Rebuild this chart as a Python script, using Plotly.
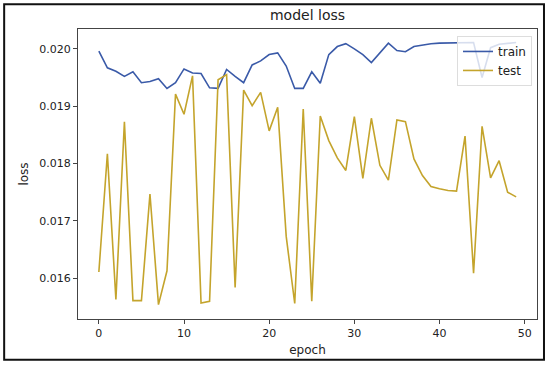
import plotly.graph_objects as go

epochs = list(range(50))
train_loss = [0.01996, 0.01967, 0.01961, 0.01952, 0.01960, 0.01941, 0.01943, 0.01948, 0.01931, 0.01941,
              0.01965, 0.01958, 0.01957, 0.01932, 0.01931, 0.01964, 0.01952, 0.01941, 0.01972, 0.01979,
              0.01990, 0.01993, 0.01970, 0.01931, 0.01931, 0.01960, 0.01940, 0.01990, 0.02004, 0.02009,
              0.02000, 0.01990, 0.01976, 0.01993, 0.02010, 0.01997, 0.01995, 0.02004, 0.02007, 0.02009,
              0.02010, 0.02010, 0.02011, 0.02011, 0.02011, 0.01950, 0.02002, 0.02008, 0.02010, 0.02011]
test_loss = [0.01611, 0.01817, 0.01563, 0.01873, 0.01561, 0.01561, 0.01747, 0.01554, 0.01613, 0.01921,
             0.01886, 0.01953, 0.01557, 0.01560, 0.01946, 0.01955, 0.01584, 0.01928, 0.01901, 0.01924,
             0.01857, 0.01898, 0.01673, 0.01556, 0.01895, 0.01560, 0.01883, 0.01840, 0.01810, 0.01788,
             0.01882, 0.01774, 0.01879, 0.01797, 0.01771, 0.01876, 0.01873, 0.01808, 0.01779, 0.01760,
             0.01756, 0.01753, 0.01752, 0.01848, 0.01609, 0.01865, 0.01775, 0.01805, 0.01750, 0.01742]
y_ticks = [0.016, 0.017, 0.018, 0.019, 0.020]
x_ticks = [0, 10, 20, 30, 40, 50]

font = "DejaVu Sans, Liberation Sans, sans-serif"
fig = go.Figure()
fig.add_trace(go.Scatter(x=epochs, y=train_loss, mode="lines", name="train",
                         line=dict(color="#3a5aa8", width=1.6)))
fig.add_trace(go.Scatter(x=epochs, y=test_loss, mode="lines", name="test",
                         line=dict(color="#c4a42c", width=1.6)))

L, R, T, B = 78, 538, 29, 321
W, H = 550, 367
pw, ph = R - L, B - T

def px(xp):
    return (xp - L) / pw

def py(yp):
    return (B - yp) / ph

fig.add_shape(type="rect", xref="paper", yref="paper",
              x0=px(4), x1=px(545), y0=py(362), y1=py(4),
              line=dict(color="#111111", width=2), layer="below")

fig.update_layout(
    width=W, height=H,
    margin=dict(l=L, r=W - R, t=T, b=H - B),
    paper_bgcolor="white", plot_bgcolor="white",
    font=dict(family=font, size=11, color="#222222"),
    title=dict(text="model loss", x=px(308), xref="paper", xanchor="center",
               y=1 - 15 / H, yanchor="middle", font=dict(size=14, color="#222222")),
    showlegend=True,
    legend=dict(x=px(533), y=py(36), xanchor="right", yanchor="top",
                bgcolor="rgba(255,255,255,0.8)", bordercolor="#dddddd", borderwidth=1,
                font=dict(size=12, color="#222222"), tracegroupgap=0,
                itemwidth=30),
    xaxis=dict(range=[-2.45, 51.45], tickvals=x_ticks, ticks="outside", ticklen=4,
               tickcolor="#444444", showline=True, linecolor="#444444", linewidth=1.2,
               mirror=True, showgrid=False, zeroline=False,
               title=dict(text="epoch", standoff=6, font=dict(size=12))),
    yaxis=dict(range=[0.01529, 0.020346], tickvals=y_ticks, tickformat=".3f",
               ticks="outside", ticklen=4, tickcolor="#444444", showline=True,
               linecolor="#444444", linewidth=1.2, mirror=True, showgrid=False,
               zeroline=False, title=dict(text="loss", standoff=8, font=dict(size=12))),
)

fig.write_html("out.html", config={"displayModeBar": False},
               post_script="document.body.style.margin='0px';")
